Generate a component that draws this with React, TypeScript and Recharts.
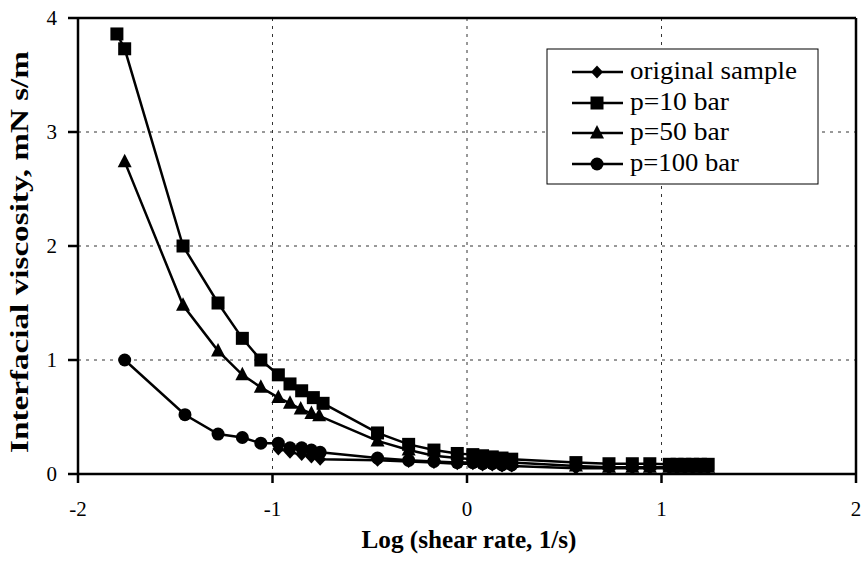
import React from 'react';
import { LineChart, Line, XAxis, YAxis, CartesianGrid, Customized, ReferenceLine } from 'recharts';

const xTicks = [-2, -1, 0, 1, 2];
const yTicks = [0, 1, 2, 3, 4];

const originalX = [-0.97, -0.91, -0.85, -0.8, -0.755, -0.46, -0.3, -0.17, -0.05, 0.03, 0.08, 0.13, 0.18, 0.23, 0.56, 0.73, 0.85, 0.94, 1.04, 1.08, 1.12, 1.16, 1.2, 1.24];
const originalY = [0.22, 0.19, 0.17, 0.15, 0.13, 0.12, 0.11, 0.1, 0.09, 0.09, 0.08, 0.08, 0.07, 0.07, 0.05, 0.05, 0.05, 0.05, 0.05, 0.05, 0.05, 0.05, 0.05, 0.05];

const p10X = [-1.8, -1.76, -1.46, -1.28, -1.155, -1.06, -0.97, -0.91, -0.85, -0.79, -0.74, -0.46, -0.3, -0.17, -0.05, 0.03, 0.08, 0.13, 0.18, 0.23, 0.56, 0.73, 0.85, 0.94, 1.04, 1.08, 1.12, 1.16, 1.2, 1.24];
const p10Y = [3.86, 3.73, 2.0, 1.5, 1.19, 1.0, 0.87, 0.79, 0.73, 0.67, 0.62, 0.36, 0.26, 0.21, 0.18, 0.17, 0.16, 0.15, 0.14, 0.13, 0.1, 0.09, 0.09, 0.09, 0.085, 0.085, 0.085, 0.085, 0.085, 0.085];

const p50X = [-1.76, -1.46, -1.28, -1.155, -1.06, -0.97, -0.91, -0.855, -0.8, -0.76, -0.46, -0.3, -0.17, -0.05, 0.03, 0.08, 0.13, 0.18, 0.23, 0.56, 0.73, 0.85, 0.94, 1.04, 1.08, 1.12, 1.16, 1.2, 1.24];
const p50Y = [2.74, 1.48, 1.08, 0.87, 0.76, 0.67, 0.62, 0.57, 0.53, 0.51, 0.29, 0.21, 0.16, 0.14, 0.13, 0.12, 0.11, 0.1, 0.1, 0.07, 0.06, 0.06, 0.06, 0.06, 0.06, 0.06, 0.06, 0.06, 0.06];

const p100X = [-1.76, -1.45, -1.28, -1.155, -1.06, -0.97, -0.91, -0.85, -0.8, -0.755, -0.46, -0.3, -0.17, -0.05, 0.03, 0.08, 0.13, 0.18, 0.23];
const p100Y = [1.0, 0.52, 0.35, 0.32, 0.27, 0.27, 0.23, 0.23, 0.21, 0.19, 0.14, 0.12, 0.11, 0.1, 0.1, 0.09, 0.09, 0.08, 0.08];

const seriesNames = ['original sample', 'p=10 bar', 'p=50 bar', 'p=100 bar'];
const seriesShapes = ['diamond', 'square', 'triangle', 'circle'];

const zip = (xs: number[], ys: number[]) => xs.map((x, i) => ({ x, y: ys[i] }));

const originalData = zip(originalX, originalY);
const p10Data = zip(p10X, p10Y);
const p50Data = zip(p50X, p50Y);
const p100Data = zip(p100X, p100Y);

const FONT = 'Times New Roman, Liberation Serif, Times, serif';

function markerEl(shape: string, cx: number, cy: number, key?: string) {
  if (shape === 'square') {
    return <rect key={key} x={cx - 6.5} y={cy - 6.5} width={13} height={13} fill="#000" />;
  }
  if (shape === 'triangle') {
    return <polygon key={key} points={`${cx},${cy - 8} ${cx + 7},${cy + 5.5} ${cx - 7},${cy + 5.5}`} fill="#000" />;
  }
  if (shape === 'circle') {
    return <circle key={key} cx={cx} cy={cy} r={6.5} fill="#000" />;
  }
  return <polygon key={key} points={`${cx},${cy - 6.5} ${cx + 6},${cy} ${cx},${cy + 6.5} ${cx - 6},${cy}`} fill="#000" />;
}

const makeDot = (shape: string) => (props: any) => {
  const { cx, cy, index } = props;
  if (cx == null || cy == null) return <g key={`${shape}-${index}`} />;
  return markerEl(shape, cx, cy, `${shape}-${index}`);
};

const XTick = (props: any) => {
  const { x, y, payload } = props;
  return (
    <text x={x} y={y + 13} textAnchor="middle" style={{ fontFamily: FONT, fontSize: 21 }} fill="#000">
      {String(payload.value)}
    </text>
  );
};

const YTick = (props: any) => {
  const { x, y, payload } = props;
  return (
    <text x={x} y={y + 7} textAnchor="end" style={{ fontFamily: FONT, fontSize: 21 }} fill="#000">
      {String(payload.value)}
    </text>
  );
};

const legendRows = [72, 103, 133, 164];
const legendTextLen = [167, 99, 99, 109];

const LegendBox = () => (
  <g>
    <rect x={547} y={49} width={271} height={135} fill="#fff" stroke="#000" strokeWidth={1} />
    {seriesNames.map((name, i) => (
      <g key={name}>
        <line x1={572} x2={623} y1={legendRows[i]} y2={legendRows[i]} stroke="#000" strokeWidth={2.5} />
        {markerEl(seriesShapes[i], 597, legendRows[i])}
        <text
          x={630}
          y={legendRows[i] + 7}
          style={{ fontFamily: FONT, fontSize: 25 }}
          fill="#000"
          textLength={legendTextLen[i]}
          lengthAdjust="spacingAndGlyphs"
        >
          {name}
        </text>
      </g>
    ))}
  </g>
);

const AxisTitles = () => (
  <g>
    <text
      x={469}
      y={548}
      textAnchor="middle"
      style={{ fontFamily: FONT, fontWeight: 'bold', fontSize: 25 }}
      fill="#000"
      textLength={215}
      lengthAdjust="spacingAndGlyphs"
    >
      Log (shear rate, 1/s)
    </text>
    <text
      x={0}
      y={0}
      transform="translate(28,252) rotate(-90)"
      textAnchor="middle"
      style={{ fontFamily: FONT, fontWeight: 'bold', fontSize: 25 }}
      fill="#000"
      textLength={402}
      lengthAdjust="spacingAndGlyphs"
    >
      Interfacial viscosity, mN s/m
    </text>
  </g>
);

export default function App() {
  return (
    <div style={{ position: 'absolute', left: 0, top: 0, background: '#fff', fontFamily: FONT }}>
      <LineChart width={864} height={567} margin={{ top: 18, right: 8, left: 18, bottom: 53 }}>
        <CartesianGrid stroke="#333" strokeDasharray="3 5" strokeWidth={1} />
        <XAxis
          dataKey="x"
          type="number"
          domain={[-2, 2]}
          ticks={xTicks}
          height={40}
          tick={<XTick />}
          tickSize={9}
          tickMargin={20}
          axisLine={{ stroke: '#000', strokeWidth: 2.5 }}
          tickLine={{ stroke: '#000', strokeWidth: 2.5 }}
          allowDataOverflow
        />
        <YAxis
          type="number"
          domain={[0, 4]}
          ticks={yTicks}
          width={60}
          tick={<YTick />}
          tickSize={10}
          tickMargin={11}
          axisLine={{ stroke: '#000', strokeWidth: 2.5 }}
          tickLine={{ stroke: '#000', strokeWidth: 2.5 }}
          allowDataOverflow
        />
        <ReferenceLine y={4} stroke="#000" strokeWidth={2.5} />
        <ReferenceLine x={2} stroke="#000" strokeWidth={2.5} />
        <Line data={originalData} dataKey="y" stroke="#000" strokeWidth={2.5} dot={makeDot('diamond')} isAnimationActive={false} />
        <Line data={p100Data} dataKey="y" stroke="#000" strokeWidth={2.5} dot={makeDot('circle')} isAnimationActive={false} />
        <Line data={p50Data} dataKey="y" stroke="#000" strokeWidth={2.5} dot={makeDot('triangle')} isAnimationActive={false} />
        <Line data={p10Data} dataKey="y" stroke="#000" strokeWidth={2.5} dot={makeDot('square')} isAnimationActive={false} />
        <Customized component={LegendBox} />
        <Customized component={AxisTitles} />
      </LineChart>
    </div>
  );
}
